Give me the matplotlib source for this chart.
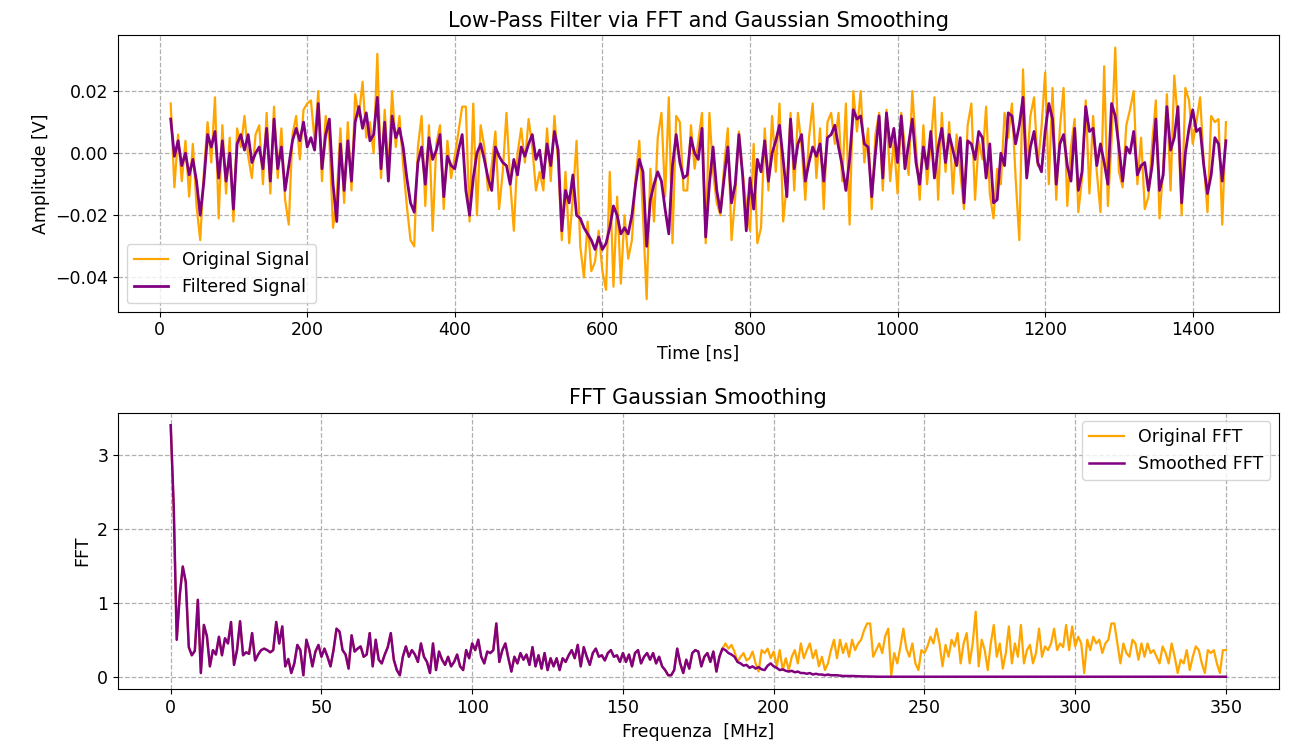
import numpy as np
import matplotlib.pyplot as plt

# time samples every 5 ns, amplitudes in mV
time_ns = np.arange(15, 1450, 5)

signal_mv = [
    16, -11, 6, -9, 4, -14, 3, -17, -28, -6, 10, -3, 18, -21, 9, -13, 5, -22, 8, 2,
    12, -1, -8, 6, 9, -10, 13, -13, 15, -8, 8, -15, -23, 6, 12, -2, 14, 16, 17, 4,
    20, -9, 12, 4, -24, -14, 8, -16, 10, -12, 19, 12, 23, 5, 10, 0, 32, -8, 14, -6,
    20, 2, 12, -4, -17, -28, -30, 2, 12, -17, 9, -25, 3, 9, -18, 4, -8, -1, 7, 15,
    15, -22, 16, -20, 9, 2, -12, -4, 7, -18, -6, 13, -9, -25, 0, 8, -3, 11, 2, -12,
    -6, -12, 8, -9, 12, -3, -28, -6, -29, -14, 4, -30, -40, -22, -38, -35, -25, -38, -44, -6,
    -43, -14, -42, -20, -34, -28, -8, 4, -20, -47, -5, -22, 5, 13, -14, 18, -29, 12, 10, -12,
    -12, 9, -5, 4, 13, -29, 13, -6, -16, -20, -4, 8, -28, -14, 7, -6, -17, -25, 3, -29,
    -24, 8, -12, 12, -6, 16, -22, -10, 13, -12, 13, 2, -15, 5, 16, -8, 8, -18, 10, 13,
    3, 13, -9, 16, -23, 20, 7, 20, -3, 8, -18, 6, 13, -12, 14, -9, 4, -13, 13, 2,
    -7, 20, 2, -15, 9, -10, 3, 18, -15, 13, -6, 10, -13, 6, -6, -18, 9, 16, -15, 4,
    -2, 15, -13, -21, -5, -10, 13, 5, 16, -8, -28, 27, -6, 12, 18, -4, 8, 26, -10, 21,
    -15, 8, 21, -17, 2, 11, -19, -8, 17, -13, 12, -6, -19, 28, -17, 4, 34, -6, -11, 9,
    14, 20, -10, 5, -18, -14, 3, 17, -21, -5, 19, -12, 25, 10, -20, 21, 17, 3, 10, 18,
    -3, -19, 12, 10, 11, -23, 10,
]

filtered_mv = [
    11, -1, 4, -4, 0, -7, -2, -9, -20, -9, 6, 2, 7, -8, 4, -9, 0, -18, 3, 6,
    1, 6, -3, 0, 2, -5, 8, -9, 11, -5, 2, -12, -4, 4, 8, 4, 10, 2, 5, 1,
    16, -5, 6, 11, -10, -22, 3, -12, 4, -9, 10, 15, 8, 13, 4, 6, 18, -5, 10, -9,
    12, 5, 8, 2, -8, -16, -19, -3, 2, -10, 5, -2, 1, 6, -14, -1, -4, -5, 1, 6,
    -12, -20, -8, 0, 3, -2, -8, -12, 2, -1, -3, -4, -10, -2, -7, 2, -1, 3, 6, -2,
    1, -8, 3, -4, 7, 1, -25, -12, -16, -7, -20, -21, -24, -26, -28, -31, -27, -31, -29, -24,
    -17, -20, -26, -24, -26, -20, -10, -2, -6, -30, -15, -10, -6, -9, -18, -26, -4, 6, -3, -8,
    -7, 5, 0, -2, 8, -27, -10, 2, -12, -19, -8, 2, -16, -10, 6, -7, -25, -8, -18, -2,
    -6, 4, -9, 0, 4, 9, -2, -14, 11, -5, 3, 6, -9, -3, 2, -1, 3, -9, 5, 6,
    9, 2, -4, -12, -2, 14, 11, 12, 3, 2, -14, 0, 12, -8, 13, 2, 8, -3, 12, -5,
    3, 11, -3, -10, 2, -5, 7, -8, 2, 8, -3, 6, 1, -4, 5, -16, 4, 3, -2, 7,
    5, -8, 3, -16, -15, 0, -4, 13, 12, 3, 9, 18, -8, 2, 7, -3, -6, 7, 16, 11,
    -10, 3, 6, -4, -9, 8, -12, -6, 15, 7, 8, -4, 3, -3, -10, 16, 12, 2, -9, 2,
    0, 7, -7, -4, -3, -12, -4, 11, -12, -7, 15, 1, 5, 15, -16, 0, 8, 14, 7, 8,
    -4, -13, -7, 5, 3, -9, 4,
]

# spectrum magnitude, 1 MHz bins from 0 to 350 MHz
freq_mhz = np.arange(0, 351, 1)

fft_orig = [
    3.40, 2.30, 0.50, 1.10, 1.49, 1.28, 0.40, 0.29, 0.35, 1.04, 0.05,
    0.70, 0.55, 0.14, 0.36, 0.30, 0.54, 0.29, 0.52, 0.45, 0.74,
    0.16, 0.36, 0.75, 0.29, 0.33, 0.31, 0.59, 0.22, 0.30, 0.36,
    0.38, 0.36, 0.33, 0.36, 0.74, 0.45, 0.68, 0.14, 0.24, 0.05,
    0.18, 0.43, 0.36, 0.02, 0.50, 0.36, 0.14, 0.34, 0.43, 0.27,
    0.38, 0.27, 0.14, 0.36, 0.65, 0.61, 0.36, 0.30, 0.11, 0.56,
    0.34, 0.38, 0.41, 0.27, 0.30, 0.59, 0.14, 0.50, 0.23, 0.18,
    0.30, 0.40, 0.59, 0.23, 0.09, 0.02, 0.27, 0.41, 0.27, 0.36,
    0.30, 0.20, 0.45, 0.27, 0.20, 0.05, 0.45, 0.09, 0.34, 0.23,
    0.16, 0.27, 0.14, 0.20, 0.30, 0.14, 0.09, 0.36, 0.25, 0.45,
    0.36, 0.50, 0.27, 0.18, 0.34, 0.32, 0.36, 0.72, 0.20, 0.36,
    0.45, 0.25, 0.07, 0.27, 0.18, 0.32, 0.23, 0.30, 0.16, 0.40,
    0.14, 0.29, 0.11, 0.32, 0.09, 0.25, 0.14, 0.25, 0.09, 0.25,
    0.20, 0.29, 0.36, 0.25, 0.43, 0.14, 0.40, 0.27, 0.16, 0.32,
    0.38, 0.27, 0.29, 0.22, 0.32, 0.36, 0.27, 0.29, 0.20, 0.32,
    0.20, 0.30, 0.14, 0.32, 0.36, 0.18, 0.27, 0.32, 0.23, 0.32,
    0.18, 0.27, 0.14, 0.09, 0.02, 0.02, 0.09, 0.38, 0.18, 0.05,
    0.23, 0.11, 0.32, 0.36, 0.34, 0.14, 0.27, 0.32, 0.20, 0.34,
    0.07, 0.27, 0.38, 0.45, 0.38, 0.43, 0.34, 0.20, 0.27, 0.32,
    0.22, 0.25, 0.34, 0.18, 0.07, 0.36, 0.32, 0.38, 0.25, 0.34,
    0.14, 0.36, 0.09, 0.25, 0.09, 0.27, 0.36, 0.18, 0.45, 0.25,
    0.36, 0.45, 0.25, 0.36, 0.14, 0.27, 0.09, 0.18, 0.36, 0.50,
    0.25, 0.50, 0.32, 0.45, 0.27, 0.50, 0.36, 0.45, 0.50, 0.63,
    0.72, 0.72, 0.27, 0.36, 0.45, 0.32, 0.55, 0.65, 0.02, 0.32,
    0.18, 0.40, 0.65, 0.38, 0.27, 0.45, 0.18, 0.09, 0.36, 0.32,
    0.41, 0.54, 0.45, 0.65, 0.45, 0.14, 0.43, 0.27, 0.50, 0.41,
    0.59, 0.18, 0.45, 0.59, 0.18, 0.45, 0.88, 0.14, 0.50, 0.36,
    0.09, 0.45, 0.70, 0.27, 0.45, 0.11, 0.32, 0.68, 0.18, 0.45,
    0.27, 0.70, 0.18, 0.36, 0.43, 0.18, 0.32, 0.65, 0.27, 0.41,
    0.36, 0.45, 0.65, 0.36, 0.45, 0.40, 0.70, 0.36, 0.68, 0.41,
    0.54, 0.45, 0.05, 0.50, 0.36, 0.54, 0.45, 0.50, 0.32, 0.45,
    0.50, 0.72, 0.72, 0.45, 0.18, 0.45, 0.32, 0.27, 0.50, 0.45,
    0.23, 0.45, 0.27, 0.45, 0.32, 0.36, 0.27, 0.18, 0.41, 0.32,
    0.18, 0.45, 0.27, 0.05, 0.23, 0.18, 0.36, 0.09, 0.27, 0.41,
    0.36, 0.18, 0.05, 0.36, 0.32, 0.36, 0.18, 0.05, 0.36, 0.36,
]

# smoothed spectrum: unchanged below 184 MHz, rolled off above
smooth_tail = [
    0.36, 0.32, 0.30, 0.27, 0.20, 0.18, 0.15, 0.16, 0.12, 0.14,
    0.11, 0.13, 0.10, 0.09, 0.15, 0.18, 0.14, 0.12, 0.09, 0.10,
    0.08, 0.07, 0.08, 0.06, 0.07, 0.05, 0.05, 0.04, 0.05, 0.03,
    0.04, 0.03, 0.03, 0.02, 0.03, 0.02, 0.02, 0.02, 0.015, 0.01,
    0.01, 0.01, 0.01, 0.008, 0.006, 0.005, 0.004, 0.003, 0.002, 0.001,
    0.001, 0.0,
]
fft_smooth = fft_orig[:184] + smooth_tail + [0.0] * (351 - 184 - len(smooth_tail))

signal = np.array(signal_mv) * 1e-3
filtered = np.array(filtered_mv) * 1e-3

plt.rcParams['font.size'] = 12.5

fig, (ax1, ax2) = plt.subplots(2, 1, figsize=(12.89, 7.46), dpi=100)
fig.subplots_adjust(left=0.0915, right=0.992, top=0.953, bottom=0.076, hspace=0.365)

ax1.plot(time_ns, signal, color='orange', linewidth=1.6, label='Original Signal')
ax1.plot(time_ns, filtered, color='purple', linewidth=2.0, label='Filtered Signal')
ax1.set_title('Low-Pass Filter via FFT and Gaussian Smoothing', fontsize=15)
ax1.set_xlabel('Time [ns]')
ax1.set_ylabel('Amplitude [V]')
ax1.grid(True, linestyle='--', color='#b0b0b0', linewidth=0.9)
ax1.legend(loc='lower left')

ax2.plot(freq_mhz, fft_orig, color='orange', linewidth=1.6, label='Original FFT')
ax2.plot(freq_mhz, fft_smooth, color='purple', linewidth=1.8, label='Smoothed FFT')
ax2.set_title('FFT Gaussian Smoothing', fontsize=15)
ax2.set_xlabel('Frequenza  [MHz]')
ax2.set_ylabel('FFT')
ax2.grid(True, linestyle='--', color='#b0b0b0', linewidth=0.9)
ax2.legend(loc='upper right')

fig.savefig('out.png', dpi=100)
